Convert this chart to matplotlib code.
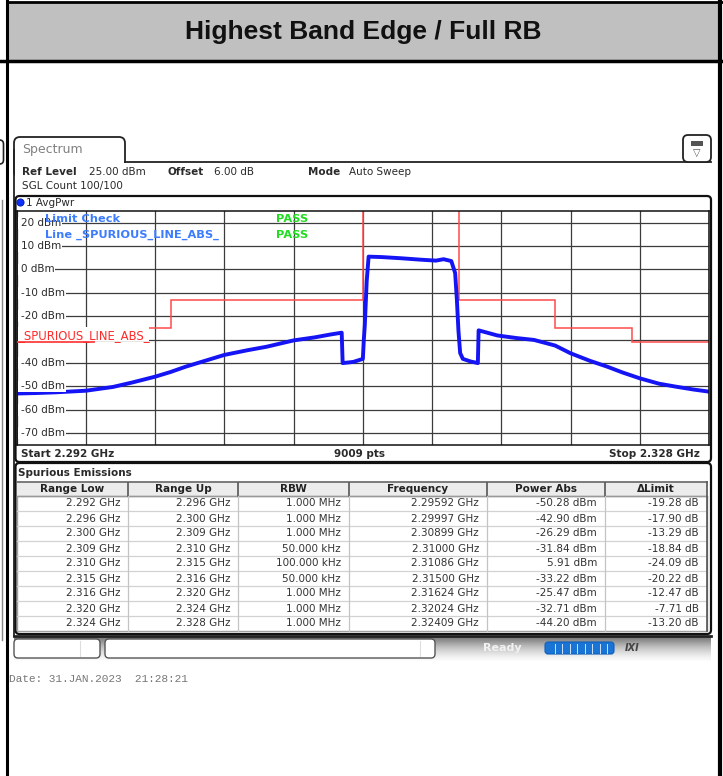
import numpy as np
import matplotlib.pyplot as plt
from matplotlib.patches import FancyBboxPatch, Rectangle, Circle
from matplotlib.transforms import blended_transform_factory

W, H = 723, 776

# AvgPwr trace (GHz, dBm)
trace_freq = [2.2920, 2.2930, 2.2940, 2.2956, 2.2970, 2.2980, 2.2992, 2.3000, 2.3008, 2.3018,
              2.3028, 2.3040, 2.3050, 2.3064, 2.3075, 2.3083, 2.3089, 2.30895, 2.3095, 2.3100,
              2.31005, 2.3101, 2.3102, 2.3103, 2.3110, 2.3120, 2.3130, 2.3138, 2.3142, 2.3146,
              2.3148, 2.31489, 2.31497, 2.31506, 2.3152, 2.3156, 2.31598, 2.31602, 2.3170, 2.3180,
              2.3189, 2.3200, 2.3208, 2.3218, 2.3227, 2.3235, 2.3244, 2.3254, 2.3263, 2.3272, 2.3280]
trace_dbm = [-53.0, -52.8, -52.5, -51.8, -50.2, -48.3, -45.8, -43.8, -41.5, -39.0,
             -36.5, -34.5, -33.0, -30.3, -29.0, -27.8, -27.0, -40.0, -39.5, -38.2,
             -30.0, -24.0, -5.0, 5.5, 5.3, 4.8, 4.2, 3.8, 4.4, 3.6,
             -1.5, -13.0, -26.0, -35.7, -38.2, -39.3, -40.0, -26.0, -28.2, -29.3,
             -30.1, -32.5, -35.8, -39.0, -41.5, -44.0, -46.5, -48.8, -50.1, -51.3, -52.2]

# Spurious emissions table
range_low = [2.292, 2.296, 2.300, 2.309, 2.310, 2.315, 2.316, 2.320, 2.324]
range_up = [2.296, 2.300, 2.309, 2.310, 2.315, 2.316, 2.320, 2.324, 2.328]
rbw = ['1.000 MHz', '1.000 MHz', '1.000 MHz', '50.000 kHz', '100.000 kHz',
       '50.000 kHz', '1.000 MHz', '1.000 MHz', '1.000 MHz']
peak_freq = [2.29592, 2.29997, 2.30899, 2.31000, 2.31086, 2.31500, 2.31624, 2.32024, 2.32409]
power_abs = [-50.28, -42.90, -26.29, -31.84, 5.91, -33.22, -25.47, -32.71, -44.20]
delta_limit = [-19.28, -17.90, -13.29, -18.84, -24.09, -20.22, -12.47, -7.71, -13.20]

y_ticks = [20, 10, 0, -10, -20, -30, -40, -50, -60, -70]
# the -30 dBm label sits under the limit-line label on screen
y_labels = [20, 10, 0, -10, -20, -40, -50, -60, -70]

FS = 7.5
TXT = '#2a2a2a'

fig = plt.figure(figsize=(W / 100, H / 100), dpi=100)
bg = fig.add_axes([0, 0, 1, 1])
bg.set_xlim(0, W)
bg.set_ylim(H, 0)
bg.axis('off')

# ---- page frame / title cell
bg.add_patch(Rectangle((8, 3), 711, 57, facecolor='#c0c0c0', edgecolor='none'))
bg.plot([7, 7], [0, H], color='black', lw=2.2)
bg.plot([720, 720], [0, H], color='black', lw=3)
bg.plot([7, W], [2, 2], color='black', lw=2)
bg.plot([0, W], [61, 61], color='black', lw=2.5)
bg.text(363, 32, 'Highest Band Edge / Full RB', ha='center', va='center',
        fontsize=19, fontweight='bold', family='Liberation Sans', color='#111')

# remnants of the neighbouring window at the far left
bg.add_patch(FancyBboxPatch((-15, 140), 18.5, 24, boxstyle='round,pad=0,rounding_size=4',
                            facecolor='white', edgecolor='#222', lw=1.2))
bg.plot([2, 2], [200, 640], color='#888', lw=1)

# ---- analyzer window: tab, header
bg.add_patch(FancyBboxPatch((14, 137), 111, 40, boxstyle='round,pad=0,rounding_size=6',
                            facecolor='white', edgecolor='#222', lw=1.3, zorder=1))
bg.add_patch(Rectangle((14.8, 162.6), 111.5, 16, facecolor='white', edgecolor='none', zorder=2))
bg.plot([125, 711], [162, 162], color='#222', lw=1.3, zorder=3)
bg.plot([14, 14], [150, 636], color='#222', lw=1.3, zorder=3)
bg.text(22, 149, 'Spectrum', fontsize=9, color='#808080', va='center', zorder=4)

bg.add_patch(FancyBboxPatch((683, 135), 28, 27, boxstyle='round,pad=0,rounding_size=5',
                            facecolor='white', edgecolor='#222', lw=1.3, zorder=4))
bg.add_patch(Rectangle((691, 141), 12, 4.5, facecolor='#555', edgecolor='none', zorder=5))
bg.text(697, 153, '\u25bd', fontsize=7, ha='center', va='center', color='#555', zorder=5)

bg.text(22, 172, 'Ref Level', fontsize=FS, fontweight='bold', va='center', color=TXT)
bg.text(89, 172, '25.00 dBm', fontsize=FS, va='center', color=TXT)
bg.text(167, 172, 'Offset', fontsize=FS, fontweight='bold', va='center', color=TXT)
bg.text(214, 172, '6.00 dB', fontsize=FS, va='center', color=TXT)
bg.text(308, 172, 'Mode', fontsize=FS, fontweight='bold', va='center', color=TXT)
bg.text(349, 172, 'Auto Sweep', fontsize=FS, va='center', color=TXT)
bg.text(22, 186, 'SGL Count 100/100', fontsize=FS, va='center', color=TXT)

# ---- diagram panel
bg.add_patch(FancyBboxPatch((15.5, 196), 695.5, 266, boxstyle='round,pad=0,rounding_size=4',
                            facecolor='white', edgecolor='#111', lw=1.6, zorder=3))
bg.add_patch(Circle((20.5, 202.5), 3.6, facecolor='#1030ff', edgecolor='#0018a0', lw=0.6, zorder=4))
bg.text(26, 203, '1 AvgPwr', fontsize=FS, va='center', color=TXT, zorder=4)
bg.text(21, 454, 'Start 2.292 GHz', fontsize=FS, fontweight='bold', va='center', color=TXT, zorder=4)
bg.text(360, 454, '9009 pts', fontsize=FS, fontweight='bold', ha='center', va='center', color=TXT, zorder=4)
bg.text(700, 454, 'Stop 2.328 GHz', fontsize=FS, fontweight='bold', ha='right', va='center', color=TXT, zorder=4)

x0, x1, y0, y1 = 16.7, 709, 211, 445
ax = fig.add_axes([x0 / W, 1 - y1 / H, (x1 - x0) / W, (y1 - y0) / H])
ax.set_xlim(2.292, 2.328)
ax.set_ylim(-75, 25)
ax.set_xticks(np.linspace(2.292, 2.328, 11))
ax.set_yticks(y_ticks)
ax.tick_params(length=0, labelleft=False, labelbottom=False)
ax.grid(True, color='#3c3c3c', lw=0.9)
ax.set_axisbelow(True)
for s in ax.spines.values():
    s.set_color('#111')
    s.set_linewidth(1.1)

# limit line derived from the table (power - delta)
limits = [p - d for p, d in zip(power_abs, delta_limit)]
ax.stairs(limits, range_low + [range_up[-1]], baseline=None, color='#ff4a4a', lw=1.1, zorder=2.2)
ax.plot(trace_freq, trace_dbm, color='#1414f5', lw=2.8, zorder=2.5)

ypix = blended_transform_factory(bg.transData, ax.transData)
for v in y_labels:
    ax.add_patch(Rectangle((17.5, v - 2.5), 5, 5, transform=ypix, facecolor='white',
                           edgecolor='none', zorder=2.9))
    ax.text(21, v, f'{v} dBm', transform=ypix, fontsize=FS, va='center', color=TXT, zorder=3,
            bbox=dict(facecolor='white', edgecolor='none', pad=0.6))

# limit line label hides part of the grid
ax.add_patch(Rectangle((17.5, 327), 131, 14, transform=bg.transData, facecolor='white',
                       edgecolor='none', zorder=3.5))
ax.plot([x0, 94], [342.3, 342.3], transform=bg.transData, color='#ff4a4a', lw=1.1, zorder=3.6)
ax.text(18, 335.5, '_SPURIOUS_LINE_ABS_', transform=bg.transData, fontsize=8.4,
        va='center', color='#ff2a2a', zorder=4)

ax.text(45, 219, 'Limit Check', transform=bg.transData, fontsize=8.2, fontweight='bold',
        va='center', color='#3c7cff', zorder=4)
ax.text(45, 235, 'Line _SPURIOUS_LINE_ABS_', transform=bg.transData, fontsize=8.2,
        fontweight='bold', va='center', color='#3c7cff', zorder=4)
for yy in (219, 235):
    ax.text(276, yy, 'PASS', transform=bg.transData, fontsize=8.2, fontweight='bold',
            va='center', color='#22dd22', zorder=4)

# ---- spurious emissions table
bg.add_patch(FancyBboxPatch((15.5, 463), 695.5, 171, boxstyle='round,pad=0,rounding_size=4',
                            facecolor='white', edgecolor='#111', lw=1.6, zorder=3))
bg.text(18, 472.5, 'Spurious Emissions', fontsize=FS, fontweight='bold', va='center',
        color=TXT, zorder=4)

cols = [17, 128, 238, 349, 487, 605, 707]
headers = ['Range Low', 'Range Up', 'RBW', 'Frequency', 'Power Abs', '\u0394Limit']
ht, hb, rh = 482, 496, 15
nrow = len(range_low)
bot = hb + rh * nrow
bg.add_patch(Rectangle((cols[0], ht), cols[-1] - cols[0], hb - ht, facecolor='#ececec',
                       edgecolor='none', zorder=4))
bg.add_patch(Rectangle((cols[0], hb), cols[-1] - cols[0], bot - hb, facecolor='white',
                       edgecolor='#a0a0a0', lw=1, zorder=4))
bg.plot([cols[0], cols[-1]], [ht, ht], color='#666', lw=1.2, zorder=5)
bg.plot([cols[0], cols[-1]], [hb, hb], color='#999', lw=1, zorder=5)
for i in range(1, nrow):
    bg.plot([cols[0], cols[-1]], [hb + rh * i] * 2, color='#d2d2d2', lw=0.9, zorder=5)
for c in cols[1:-1]:
    bg.plot([c, c], [ht + 1, hb], color='#555', lw=1.2, zorder=5)
    bg.plot([c, c], [hb, bot], color='#c4c4c4', lw=0.9, zorder=5)
bg.plot([cols[-1], cols[-1]], [ht, bot], color='#555', lw=1.2, zorder=5)
for j, h in enumerate(headers):
    bg.text((cols[j] + cols[j + 1]) / 2, (ht + hb) / 2 + 0.5, h, fontsize=FS, fontweight='bold',
            ha='center', va='center', color='#222', zorder=6)

for i in range(nrow):
    cells = [f'{range_low[i]:.3f} GHz', f'{range_up[i]:.3f} GHz', rbw[i],
             f'{peak_freq[i]:.5f} GHz', f'{power_abs[i]:.2f} dBm', f'{delta_limit[i]:.2f} dB']
    yc = hb + rh * i + rh / 2
    for j, s in enumerate(cells):
        bg.text(cols[j + 1] - 8, yc, s, fontsize=FS, ha='right', va='center', color='#333', zorder=6)

# ---- status bar
grad = np.linspace(0, 1, 30)[:, None] * np.ones((1, 2))
bg.imshow(grad, cmap='Greys_r', vmin=-0.6, vmax=1.0, extent=(14, 711, 662, 636),
          aspect='auto', zorder=2)
bg.plot([14, 711], [635.5, 635.5], color='#222', lw=2, zorder=3)
bg.add_patch(FancyBboxPatch((14, 639), 86, 19, boxstyle='round,pad=0,rounding_size=4',
                            facecolor='white', edgecolor='#555', lw=1, zorder=4))
bg.plot([80, 80], [641, 656], color='#ddd', lw=0.8, zorder=5)
bg.add_patch(FancyBboxPatch((105, 639), 330, 19, boxstyle='round,pad=0,rounding_size=4',
                            facecolor='white', edgecolor='#555', lw=1, zorder=4))
bg.plot([420, 420], [641, 656], color='#ddd', lw=0.8, zorder=5)
bg.text(483, 648, 'Ready', fontsize=8, fontweight='bold', color='#f2f2f2', va='center', zorder=5)
bg.add_patch(FancyBboxPatch((545, 642), 69, 12, boxstyle='round,pad=0,rounding_size=3',
                            facecolor='#1a74d6', edgecolor='#1060b8', lw=0.8, zorder=5))
for k in range(1, 9):
    xs = 547 + 7.5 * k
    bg.plot([xs, xs], [643.5, 652.5], color='#cfe3fa', lw=0.7, zorder=6)
bg.text(632, 648, 'IXI', fontsize=7, fontweight='bold', style='italic', color='#444',
        ha='center', va='center', zorder=5)

bg.text(9, 679, 'Date: 31.JAN.2023  21:28:21', fontsize=8, family='Liberation Mono',
        color='#777', va='center')

fig.savefig('out.png', dpi=100)
